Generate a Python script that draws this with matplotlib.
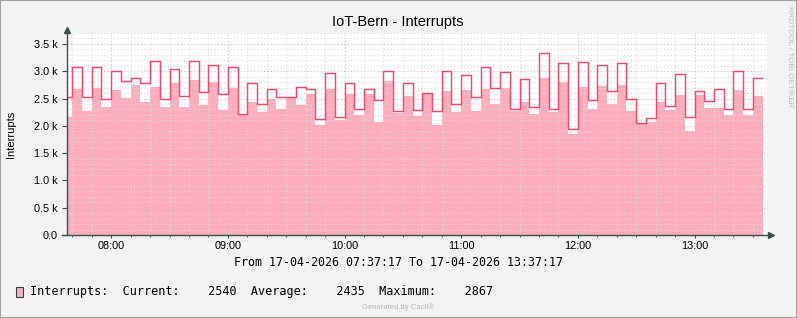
import matplotlib
matplotlib.use("Agg")
import matplotlib.pyplot as plt
import matplotlib.dates as mdates
from matplotlib.ticker import MultipleLocator, FuncFormatter
from matplotlib.patches import Rectangle
import datetime as dt

# 5-minute samples, 17-04-2026 07:37:17 -> 13:37:17
avg_vals = [2158, 2683, 2280, 2701, 2353, 2665, 2512, 2756, 2427, 2713, 2353, 2793,
            2353, 2841, 2390, 2805, 2298, 2695, 2195, 2439, 2262, 2488, 2311, 2512,
            2390, 2585, 2024, 2683, 2110, 2585, 2195, 2585, 2073, 2817, 2231, 2549,
            2183, 2597, 2024, 2634, 2244, 2658, 2280, 2677, 2402, 2695, 2268, 2439,
            2219, 2867, 2244, 2805, 1853, 2707, 2311, 2732, 2402, 2756, 2280, 2040,
            2073, 2427, 2292, 2573, 1902, 2561, 2329, 2329, 2195, 2658, 2207, 2540]
max_vals = [2536, 3073, 2524, 3073, 2488, 3000, 2817, 2884, 2780, 3195, 2500, 3049,
            2549, 3195, 2622, 3110, 2585, 3073, 2219, 2793, 2402, 2671, 2524, 2524,
            2720, 2683, 2122, 2963, 2158, 2780, 2305, 2683, 2475, 3012, 2268, 2780,
            2286, 2597, 2268, 3012, 2396, 2927, 2524, 3085, 2689, 2994, 2317, 2866,
            2353, 3329, 2317, 3146, 1939, 3165, 2469, 3110, 2634, 3146, 2488, 2048,
            2134, 2780, 2359, 2951, 2158, 2634, 2451, 2671, 2317, 3000, 2305, 2872]

legend_current = 2540
legend_average = 2435
legend_maximum = 2867

t_start = dt.datetime(2026, 4, 17, 7, 37, 17)
t_end = dt.datetime(2026, 4, 17, 13, 37, 17)
first_step = dt.datetime(2026, 4, 17, 7, 40)
edges = [t_start] + [first_step + dt.timedelta(minutes=5 * k) for k in range(len(avg_vals))]
edges_num = mdates.date2num(edges)

AREA = '#FFADBC'
LINE = '#F24A6C'
AXC = '#3A524E'
W, H = 797, 318

fig = plt.figure(figsize=(W / 100, H / 100), dpi=100, facecolor='#F3F3F3')
ax = fig.add_axes([67 / W, 83 / H, 700 / W, 202 / H])
ax.set_facecolor('white')

ax.stairs(avg_vals, edges_num, fill=True, color=AREA, zorder=1)
ax.stairs(max_vals, edges_num, baseline=None, color=LINE, lw=1.05, zorder=3)

ax.set_xlim(mdates.date2num(t_start), mdates.date2num(t_end))
ax.set_ylim(0, 3700)

ax.xaxis.set_major_locator(mdates.HourLocator())
ax.xaxis.set_minor_locator(mdates.MinuteLocator(byminute=range(0, 60, 10)))
ax.xaxis.set_major_formatter(mdates.DateFormatter('%H:%M'))
ax.yaxis.set_major_locator(MultipleLocator(500))
ax.yaxis.set_minor_locator(MultipleLocator(100))
ax.yaxis.set_major_formatter(FuncFormatter(lambda v, p: '0.0' if v == 0 else f'{v / 1000:.1f} k'))

ax.set_axisbelow(False)
ax.grid(which='major', color='#EDB0B4', ls=(0, (1, 2)), lw=0.8)
ax.grid(which='minor', color='#DADADA', ls=(0, (1, 2)), lw=0.8)

for s in ax.spines.values():
    s.set_visible(False)

ax.tick_params(which='both', color=AXC, direction='out')
ax.tick_params(axis='y', which='major', length=3.5, pad=3, labelsize=7.8)
ax.tick_params(axis='y', which='minor', length=0)
ax.tick_params(axis='x', which='major', length=2.5, pad=1.5, labelsize=7.8)
ax.tick_params(axis='x', which='minor', length=1.5)
for lab in ax.get_xticklabels() + ax.get_yticklabels():
    lab.set_family('Liberation Sans')

# axis lines with arrows
ax.plot([0, 0], [0, 1.012], transform=ax.transAxes, color=AXC, lw=1, clip_on=False, zorder=5)
ax.plot([-0.007, 1.004], [0, 0], transform=ax.transAxes, color=AXC, lw=1, clip_on=False, zorder=5)
ax.plot(0, 1.014, marker='^', ms=5, color=AXC, transform=ax.transAxes, clip_on=False, zorder=6)
ax.plot(1.006, 0, marker='>', ms=5, color=AXC, transform=ax.transAxes, clip_on=False, zorder=6)

fig.text(398 / W, 1 - 22 / H, 'IoT-Bern - Interrupts', ha='center', va='center',
         fontsize=10.5, family='Liberation Sans')
fig.text(11 / W, 1 - 134 / H, 'Interrupts', rotation=90, ha='center', va='center',
         fontsize=8, family='Liberation Sans')
fig.text(790 / W, 1 - 6 / H, 'RRDTOOL / TOBI OETIKER', rotation=270, ha='center', va='top',
         fontsize=5.8, color='#BDBDBD', family='Liberation Sans')

fig.text(398 / W, 1 - 263 / H, 'From 17-04-2026 07:37:17 To 17-04-2026 13:37:17',
         ha='center', va='center', fontsize=8.4, family='DejaVu Sans Mono')

fig.patches.append(Rectangle((15.5 / W, 1 - 297 / H), 7 / W, 10 / H, transform=fig.transFigure,
                             facecolor=AREA, edgecolor='#2F3F3B', lw=0.8))
legend_str = 'Interrupts:  Current:    %d  Average:    %d  Maximum:    %d' % (
    legend_current, legend_average, legend_maximum)
fig.text(30 / W, 1 - 291.5 / H, legend_str, ha='left', va='center', fontsize=8.5,
         family='DejaVu Sans Mono')
fig.text(398 / W, 1 - 307.5 / H, 'Generated by Cacti\u00ae', ha='center', va='center',
         fontsize=5.5, color='#B5B5B5', family='Liberation Sans')

fig.patches.append(Rectangle((0, 0), 1, 1, transform=fig.transFigure, fill=False,
                             edgecolor='#A0A0A0', lw=1.5))

fig.savefig('out.png', dpi=100, facecolor=fig.get_facecolor())
